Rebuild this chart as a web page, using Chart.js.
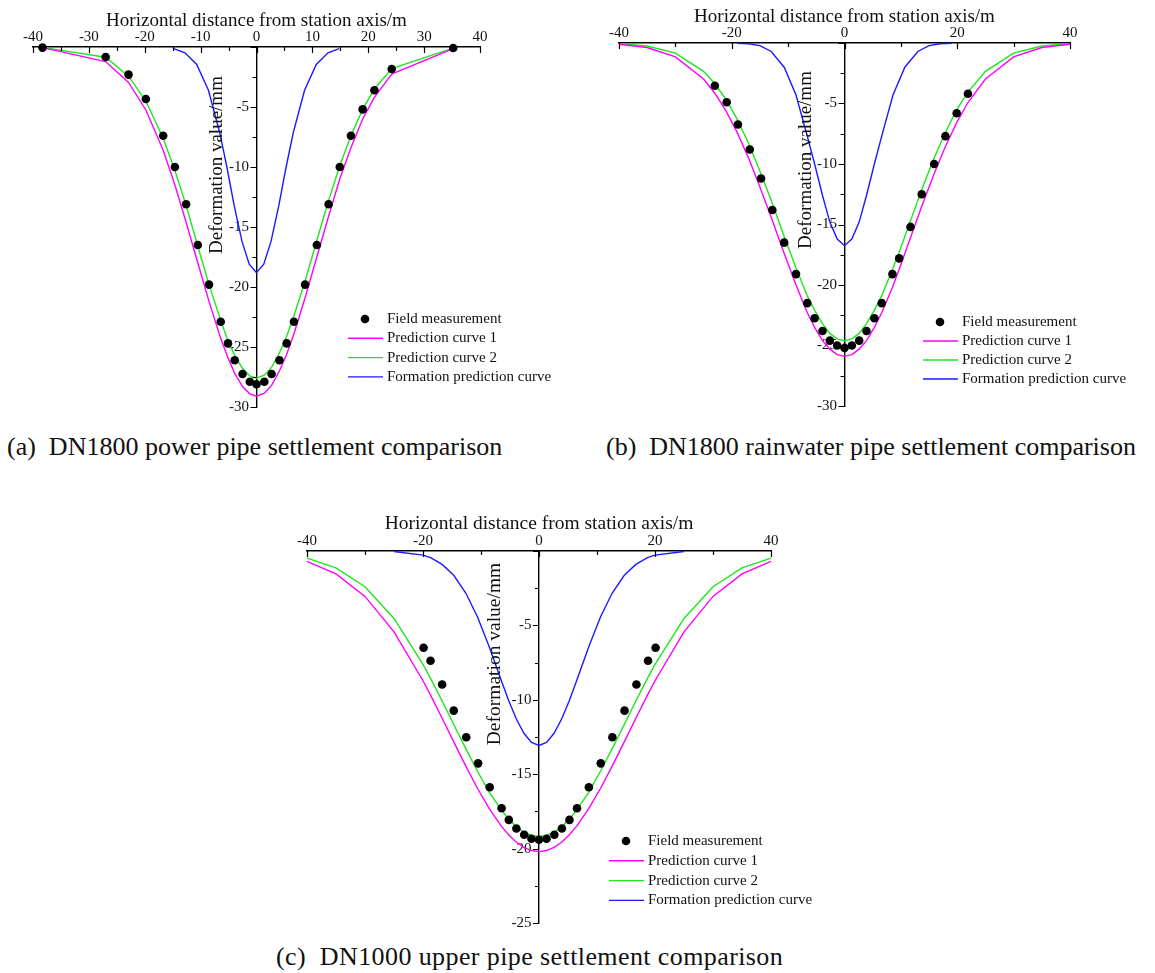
<!DOCTYPE html>
<html>
<head>
<meta charset="utf-8">
<script src="https://cdn.jsdelivr.net/npm/chart.js@4.4.1/dist/chart.umd.min.js"></script>
<style>
  body { margin: 0; background: #fff; }
  #wrap { position: relative; width: 1155px; height: 973px; overflow: hidden; }
  canvas { position: absolute; }
  .cap {
    position: absolute;
    font-family: 'Liberation Serif', 'Times New Roman', serif;
    font-size: 26px;
    line-height: 30px;
    color: #111;
    white-space: pre;
  }
</style>
</head>
<body>
<div id="wrap">
  <canvas id="chartA" width="575" height="420" style="left:0;top:0"></canvas>
  <canvas id="chartB" width="575" height="420" style="left:580px;top:0"></canvas>
  <canvas id="chartC" width="560" height="440" style="left:280px;top:500px"></canvas>
  <div class="cap" style="left:7px;top:432px">(a)  DN1800 power pipe settlement comparison</div>
  <div class="cap" style="left:606px;top:432px">(b)  DN1800 rainwater pipe settlement comparison</div>
  <div class="cap" style="left:276px;top:942px;letter-spacing:0.4px">(c)  DN1000 upper pipe settlement comparison</div>
</div>
<script>
// ===== Data (a) DN1800 power pipe =====
let aX = [-38.3, -27.0, -22.9, -19.8, -16.7, -14.6, -12.6, -10.5, -8.5, -6.4, -5.1, -3.9, -2.5, -1.2, 0,
          1.4, 2.7, 4.1, 5.4, 6.7, 8.7, 10.8, 12.9, 14.9, 16.9, 19.0, 21.1, 24.2, 35.2];
let aField = [-0.05, -0.83, -2.3, -4.33, -7.4, -10.0, -13.1, -16.5, -19.8, -22.9, -24.7, -26.1, -27.25, -27.9, -28.1,
              -27.9, -27.25, -26.1, -24.7, -22.9, -19.8, -16.5, -13.1, -10.0, -7.4, -5.2, -3.6, -1.83, -0.08];
let aCurve1 = [-0.05, -1.21, -2.95, -5.25, -8.6, -11.5, -14.6, -18.0, -21.2, -24.3, -25.9, -27.2, -28.3, -28.9, -29.1,
               -28.85, -28.2, -27.0, -25.6, -23.9, -20.9, -17.5, -14.1, -11.0, -8.4, -6.0, -4.2, -2.25, -0.13];
let aCurve2 = [-0.03, -0.85, -2.43, -4.5, -7.6, -10.3, -13.2, -16.6, -19.8, -22.8, -24.5, -25.7, -26.8, -27.4, -27.6,
               -27.35, -26.7, -25.5, -24.1, -22.4, -19.5, -16.1, -12.8, -9.9, -7.4, -5.2, -3.5, -1.8, -0.09];
let aBlueX = [-14.8, -12.8, -10.7, -8.6, -6.6, -5.3, -4.0, -2.6, -1.3, 0, 1.3, 2.6, 4.0, 5.3, 6.6, 8.6, 10.7, 12.8, 14.8];
let aBlue = [-0.14, -0.48, -1.46, -3.6, -7.1, -10.0, -13.2, -16.2, -18.1, -18.8, -18.1, -16.2, -13.2, -10.0, -7.1, -3.6, -1.46, -0.48, -0.14];

// ===== Data (b) DN1800 rainwater pipe =====
let bX = [-23.0, -20.9, -18.9, -16.8, -14.8, -12.8, -10.7, -8.6, -6.6, -5.3, -3.9, -2.6, -1.3, 0,
          1.3, 2.6, 3.9, 5.3, 6.6, 8.5, 9.7, 11.7, 13.7, 15.9, 17.9, 19.9, 21.9];
let bField = [-3.53, -4.9, -6.73, -8.8, -11.2, -13.8, -16.5, -19.1, -21.5, -22.75, -23.8, -24.6, -25.0, -25.2,
              -25.0, -24.6, -23.8, -22.75, -21.5, -19.1, -17.8, -15.2, -12.5, -10.0, -7.7, -5.8, -4.2];
let bCurveX = [-40, -35, -30, -25, -23, -21, -19, -17, -15, -13, -10.7, -8.6, -6.6, -5.3, -3.9, -2.6, -1.3, 0,
               1.3, 2.6, 3.9, 5.3, 6.6, 8.5, 9.7, 11.7, 13.7, 15.9, 17.9, 19.9, 21.9, 25, 30, 35, 40];
let bCurve1 = [-0.10, -0.37, -1.15, -2.98, -4.15, -5.63, -7.43, -9.53, -11.9, -14.4, -17.4, -20.0, -22.3, -23.5, -24.6, -25.3, -25.75, -25.9,
               -25.75, -25.3, -24.6, -23.5, -22.3, -20.2, -18.7, -16.1, -13.5, -10.8, -8.55, -6.58, -4.92, -2.98, -1.15, -0.37, -0.10];
let bCurve2 = [-0.06, -0.25, -0.84, -2.34, -3.37, -4.68, -6.33, -8.3, -10.6, -13.0, -16.0, -18.6, -20.9, -22.1, -23.2, -24.0, -24.45, -24.6,
               -24.45, -24.0, -23.2, -22.1, -20.9, -18.7, -17.3, -14.7, -12.1, -9.5, -7.4, -5.5, -4.06, -2.34, -0.84, -0.25, -0.06];
let bBlueX = [-19, -17, -15, -13, -10.7, -8.6, -6.6, -5.3, -3.9, -2.6, -1.3, 0, 1.3, 2.6, 3.9, 5.3, 6.6, 8.6, 10.7, 13, 15, 17, 19];
let bBlue = [-0.02, -0.06, -0.22, -0.7, -2.0, -4.3, -7.7, -10.0, -12.6, -14.8, -16.2, -16.75,
             -16.2, -14.8, -12.6, -10.0, -7.7, -4.3, -2.0, -0.7, -0.22, -0.06, -0.02];

// ===== Data (c) DN1000 upper pipe =====
let cX = [-19.9, -18.7, -16.7, -14.7, -12.55, -10.5, -8.5, -6.45, -5.2, -3.9, -2.55, -1.3, 0,
          1.3, 2.65, 3.95, 5.25, 6.55, 8.6, 10.65, 12.65, 14.75, 16.8, 18.8, 20.1];
let cField = [-6.5, -7.38, -8.97, -10.73, -12.52, -14.27, -15.88, -17.29, -18.07, -18.65, -19.07, -19.34, -19.41,
              -19.34, -19.07, -18.65, -18.07, -17.29, -15.88, -14.27, -12.52, -10.73, -8.97, -7.38, -6.5];
let cCurveX = [-40, -35, -30, -25, -20, -18.7, -16.7, -14.7, -12.6, -10.6, -8.6, -6.5, -5.2, -3.9, -2.6, -1.3, 0,
               1.3, 2.6, 3.9, 5.2, 6.5, 8.6, 10.6, 12.6, 14.7, 16.7, 18.7, 20, 25, 30, 35, 40];
let cCurve1 = [-0.70, -1.54, -3.05, -5.43, -8.72, -9.69, -11.24, -12.83, -14.47, -15.96, -17.3, -18.49, -19.09, -19.57, -19.92, -20.13, -20.2,
               -20.13, -19.92, -19.57, -19.09, -18.49, -17.3, -15.96, -14.47, -12.83, -11.24, -9.69, -8.72, -5.43, -3.05, -1.54, -0.70];
let cCurve2 = [-0.48, -1.13, -2.40, -4.53, -7.62, -8.56, -10.08, -11.66, -13.3, -14.8, -16.2, -17.4, -18.04, -18.54, -18.9, -19.12, -19.2,
               -19.12, -18.9, -18.54, -18.04, -17.4, -16.2, -14.8, -13.3, -11.66, -10.08, -8.56, -7.62, -4.53, -2.40, -1.13, -0.48];
let cBlueX = [-25, -20, -18.7, -16.7, -14.7, -12.6, -10.6, -8.6, -6.5, -5.2, -3.9, -2.6, -1.3, 0,
              1.3, 2.6, 3.9, 5.2, 6.5, 8.6, 10.6, 12.6, 14.7, 16.7, 18.7, 20, 25];
let cBlue = [-0.03, -0.28, -0.45, -0.90, -1.63, -2.84, -4.43, -6.42, -8.71, -10.08, -11.29, -12.25, -12.86, -13.07,
             -12.86, -12.25, -11.29, -10.08, -8.71, -6.42, -4.43, -2.84, -1.63, -0.90, -0.45, -0.28, -0.03];

// ===== Labels =====
let seriesNames = ["Field measurement", "Prediction curve 1", "Prediction curve 2", "Formation prediction curve"];
let xTitle = "Horizontal distance from station axis/m";
let yTitle = "Deformation value/mm";

const SERIF = "'Liberation Serif', 'Times New Roman', serif";
Chart.defaults.font.family = SERIF;
Chart.defaults.color = "#111";

// ===== Ticks, axis titles, legend =====
const decor = {
  id: "decor",
  afterDraw(chart, args, o) {
    let ctx = chart.ctx;
    let xs = chart.scales.x, ys = chart.scales.y;
    let axisX = xs.getPixelForValue(0);
    let axisY = ys.getPixelForValue(0);

    ctx.save();
    ctx.strokeStyle = "#000";
    ctx.lineWidth = 1.2;
    ctx.beginPath();
    // x ticks point down into the plot
    for (let v = xs.min; v <= xs.max + 0.01; v += o.xMinor) {
      let p = Math.round(xs.getPixelForValue(v)) + 0.5;
      let len = v % o.xMajor === 0 ? 6 : 4;
      ctx.moveTo(p, axisY);
      ctx.lineTo(p, axisY + len);
    }
    // y ticks point left
    for (let v = ys.min; v <= ys.max + 0.01; v += o.yMinor) {
      let p = Math.round(ys.getPixelForValue(v)) + 0.5;
      let len = v % o.yMajor === 0 ? 6 : 4;
      ctx.moveTo(axisX, p);
      ctx.lineTo(axisX - len, p);
    }
    ctx.stroke();

    // axis titles
    ctx.fillStyle = "#111";
    ctx.font = o.titleSize + "px " + SERIF;
    ctx.textAlign = "center";
    ctx.textBaseline = "alphabetic";
    ctx.fillText(xTitle, axisX, o.xTitleY);
    ctx.save();
    ctx.translate(axisX - o.yTitleOff, o.yTitleY);
    ctx.rotate(-Math.PI / 2);
    ctx.fillText(yTitle, 0, 0);
    ctx.restore();

    // legend
    ctx.font = "15px " + SERIF;
    ctx.textAlign = "left";
    ctx.textBaseline = "middle";
    chart.data.datasets.forEach((ds, i) => {
      let y = o.legY + i * o.legGap;
      if (ds.showLine) {
        ctx.strokeStyle = ds.borderColor;
        ctx.lineWidth = ds.borderWidth;
        ctx.beginPath();
        ctx.moveTo(o.legX, y);
        ctx.lineTo(o.legX + 35, y);
        ctx.stroke();
      } else {
        ctx.fillStyle = "#000";
        ctx.beginPath();
        ctx.arc(o.legX + 17, y, 4.3, 0, Math.PI * 2);
        ctx.fill();
      }
      ctx.fillStyle = "#111";
      ctx.fillText(ds.label, o.legX + 39, y);
    });
    ctx.restore();
  }
};

function pts(xs, ys) {
  return xs.map((x, i) => ({ x: x, y: ys[i] }));
}

function makeChart(id, d) {
  return new Chart(document.getElementById(id), {
    type: "scatter",
    data: {
      datasets: [
        { label: seriesNames[0], data: pts(d.fieldX, d.field), pointRadius: 4.3,
          backgroundColor: "#000", borderColor: "#000", borderWidth: 0, clip: false },
        { label: seriesNames[1], data: pts(d.curveX, d.curve1), showLine: true, pointRadius: 0,
          borderColor: "#ff00ff", borderWidth: 1.4, clip: false },
        { label: seriesNames[2], data: pts(d.curveX, d.curve2), showLine: true, pointRadius: 0,
          borderColor: "#1ee61e", borderWidth: 1.4, clip: false },
        { label: seriesNames[3], data: pts(d.blueX, d.blue), showLine: true, pointRadius: 0,
          borderColor: "#1a1aff", borderWidth: 1.4, clip: false }
      ]
    },
    plugins: [decor],
    options: {
      responsive: false,
      animation: false,
      events: [],
      layout: { padding: d.pad },
      plugins: {
        legend: { display: false },
        tooltip: { enabled: false },
        decor: d.decor
      },
      scales: {
        x: {
          type: "linear", position: "top", min: -40, max: 40,
          afterFit: s => { s.height = 30; },
          grid: { drawOnChartArea: false, drawTicks: false },
          border: { color: "#000", width: 1.4 },
          ticks: { stepSize: d.xStep, padding: 1, autoSkip: false, maxRotation: 0, font: { size: 15 } }
        },
        y: {
          type: "linear", position: { x: 0 }, min: d.yMin, max: 0,
          afterFit: s => { s.width = 0; },
          grid: { drawOnChartArea: false, drawTicks: false },
          border: { color: "#000", width: 1.4 },
          // trailing spaces keep the labels clear of the tick marks
          ticks: { stepSize: 5, font: { size: 15 }, callback: v => v === 0 ? "" : v + "  " }
        }
      }
    }
  });
}

// ===== Init =====
makeChart("chartA", {
  fieldX: aX, field: aField, curveX: aX, curve1: aCurve1, curve2: aCurve2, blueX: aBlueX, blue: aBlue,
  xStep: 10, yMin: -30,
  pad: { left: 33, right: 95, top: 17, bottom: 13 },
  decor: { xMinor: 5, xMajor: 10, yMinor: 2.5, yMajor: 5, titleSize: 19,
           xTitleY: 26, yTitleOff: 35, yTitleY: 165, legX: 348, legY: 319, legGap: 19.3 }
});

makeChart("chartB", {
  fieldX: bX, field: bField, curveX: bCurveX, curve1: bCurve1, curve2: bCurve2, blueX: bBlueX, blue: bBlue,
  xStep: 20, yMin: -30,
  pad: { left: 39, right: 85, top: 13, bottom: 14 },
  decor: { xMinor: 10, xMajor: 20, yMinor: 2.5, yMajor: 5, titleSize: 19,
           xTitleY: 22, yTitleOff: 34, yTitleY: 160, legX: 343, legY: 322, legGap: 19 }
});

makeChart("chartC", {
  fieldX: cX, field: cField, curveX: cCurveX, curve1: cCurve1, curve2: cCurve2, blueX: cBlueX, blue: cBlue,
  xStep: 20, yMin: -25,
  pad: { left: 27, right: 69, top: 21, bottom: 17 },
  decor: { xMinor: 10, xMajor: 20, yMinor: 2.5, yMajor: 5, titleSize: 19.5,
           xTitleY: 29, yTitleOff: 39, yTitleY: 154, legX: 329, legY: 341, legGap: 19.8 }
});
</script>
</body>
</html>
